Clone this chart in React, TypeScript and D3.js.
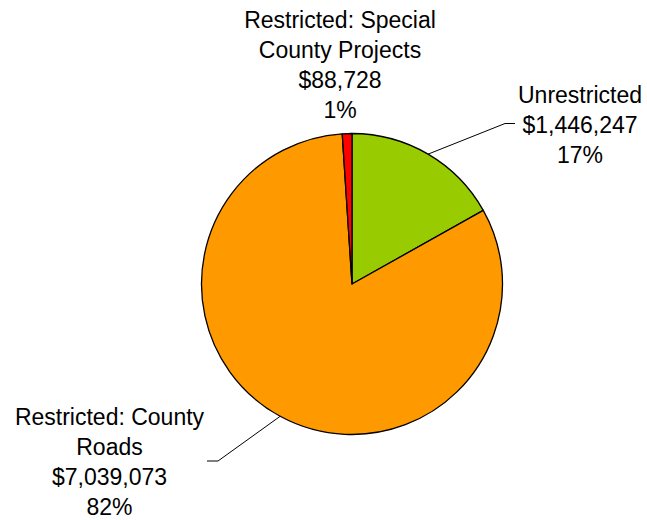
import React from "react";
import * as d3 from "d3";

const categories = ["Unrestricted", "Restricted: County Roads", "Restricted: Special County Projects"];
const values = [1446247, 7039073, 88728];
const colors = ["#99CC00", "#FF9900", "#FF0000"];
const labelLines = [
  ["Unrestricted"],
  ["Restricted: County", "Roads"],
  ["Restricted: Special", "County Projects"],
];

const W = 647;
const H = 520;
const cx = 352;
const cy = 284;
const R = 150.5;

// label layout: anchor center x, first baseline y, leader bend & end (null = no leader)
const layout = [
  { x: 580, y: 103, bend: [505, 123.5], end: [515, 123.5] },
  { x: 109.5, y: 425, bend: [218, 461], end: [207, 461] },
  { x: 340, y: 28, bend: null, end: null },
];

export default function App() {
  const total = d3.sum(values);
  const pie = d3.pie<number>().sort(null).value((d) => d)(values);
  const arc = d3.arc<d3.PieArcDatum<number>>().innerRadius(0).outerRadius(R);
  const fmt = d3.format("$,");
  const pct = (v: number) => `${Math.round((v / total) * 100)}%`;
  const lh = 30;

  return (
    <svg
      width={W}
      height={H}
      style={{ position: "absolute", left: 0, top: 0, background: "#fff" }}
      fontFamily="'Liberation Sans', Arial, sans-serif"
    >
      <g transform={`translate(${cx},${cy})`}>
        {pie.map((p, i) => (
          <path key={i} d={arc(p) || ""} fill={colors[i]} stroke="#000" strokeWidth={1.3} strokeLinejoin="round" />
        ))}
      </g>
      {pie.map((p, i) => {
        const L = layout[i];
        if (!L.bend) return null;
        const a = (p.startAngle + p.endAngle) / 2;
        const sx = cx + R * Math.sin(a);
        const sy = cy - R * Math.cos(a);
        return (
          <polyline
            key={"l" + i}
            points={`${sx},${sy} ${L.bend[0]},${L.bend[1]} ${L.end![0]},${L.end![1]}`}
            fill="none"
            stroke="#000"
            strokeWidth={1}
          />
        );
      })}
      {values.map((v, i) => {
        const L = layout[i];
        const lines = [...labelLines[i], fmt(v), pct(v)];
        return (
          <text key={"t" + i} textAnchor="middle" fontSize={23} fill="#000">
            {lines.map((s, j) => (
              <tspan key={j} x={L.x} y={L.y + j * lh}>
                {s}
              </tspan>
            ))}
          </text>
        );
      })}
    </svg>
  );
}
